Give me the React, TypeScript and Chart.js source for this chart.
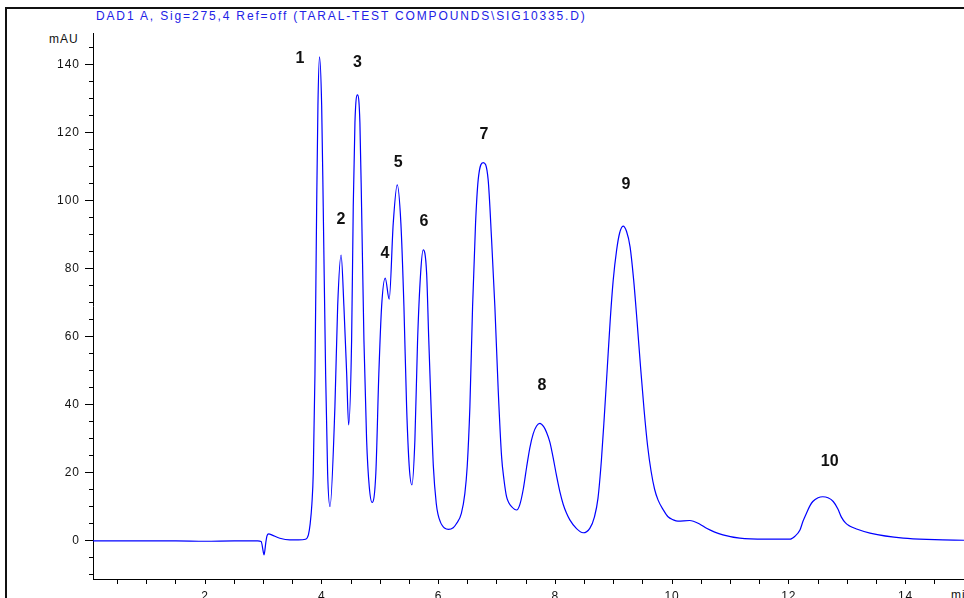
import React, { useEffect, useRef } from "react";
import { Chart, registerables } from "chart.js";

Chart.register(...registerables);

// Retention time (min) and signal (mAU)
const retentionTimes = [
  0.08, 0.5, 1.0, 1.5, 2.0, 2.5, 2.9, 2.96, 3.0, 3.01, 3.04, 3.06, 3.09, 3.15, 3.28, 3.45, 3.6, 3.72,
  3.77, 3.8, 3.83, 3.853, 3.882, 3.911, 3.933, 3.96, 3.997, 4.024, 4.065, 4.099, 4.14,
  4.224, 4.271, 4.33, 4.378, 4.425, 4.459,
  4.51, 4.538, 4.567, 4.61, 4.652, 4.681, 4.721, 4.767, 4.812, 4.861,
  4.925, 4.976, 5.024, 5.086, 5.154,
  5.223, 5.291, 5.354, 5.406, 5.452, 5.497, 5.543,
  5.594, 5.64, 5.692, 5.736, 5.795, 5.83, 5.87, 5.91, 5.96, 5.99, 6.03, 6.06, 6.1, 6.17, 6.25,
  6.31, 6.39, 6.45, 6.49, 6.536, 6.582, 6.633, 6.678, 6.764, 6.849, 6.908, 6.964, 7.021, 7.079,
  7.12, 7.164, 7.2, 7.25, 7.336, 7.39, 7.45, 7.507, 7.563, 7.62, 7.678, 7.735, 7.8, 7.85, 7.907,
  7.962, 8.02, 8.077, 8.134, 8.19, 8.248, 8.363, 8.476,
  8.59, 8.67, 8.73, 8.79, 8.84, 8.89, 8.94, 8.99, 9.05, 9.10, 9.16,
  9.22, 9.28, 9.34, 9.4, 9.46, 9.52, 9.58, 9.64, 9.7, 9.76, 9.85, 9.93, 10.02, 10.10, 10.3, 10.47,
  10.59, 10.73, 10.87, 11.16, 11.6, 12.02,
  12.04, 12.10, 12.19, 12.24, 12.3, 12.36, 12.41, 12.5, 12.58, 12.67, 12.76, 12.84, 12.9, 12.97,
  13.04, 13.16, 13.39, 13.96, 14.5, 15.0,
];
const absorbance = [
  0, 0, 0, 0, -0.1, 0, 0, -0.2, -3.5, -4.1, -0.5, 1.5, 2.1, 1.7, 0.8, 0.3, 0.3, 0.5,
  1.8, 5, 11, 20, 49, 98, 128, 142.4, 128, 98, 49, 20, 10.1,
  39.5, 69, 84.1, 69, 49.3, 34.1,
  59, 98.3, 123, 131.2, 123, 98, 59, 29.7, 16, 11.3,
  20, 49, 69, 77.3, 71.1,
  93.4, 104.7, 93.4, 69, 39.5, 21.9, 16.5,
  29.7, 59, 78.7, 85.6, 78.7, 60, 40, 22, 11, 7.8, 5.6, 4.6, 3.8, 3.4, 3.9,
  5.2, 8.1, 14, 21.9, 39.5, 68.9, 93.4, 106.2, 111.3, 106.2, 88.5, 68.9, 44.4, 24.8,
  18.0, 13, 11.3, 10.1, 9.1, 10.6, 15.2, 21.6, 27.4, 31.5, 33.8, 34.6, 33.6, 31.9, 29.0,
  24.5, 19.2, 14.5, 10.8, 8.2, 6.2, 3.6, 2.4,
  3.7, 7.1, 12.5, 24, 37, 51, 65, 76.5, 85.6, 90.5, 92.6,
  91.0, 86.5, 77, 64.5, 51, 38.5, 28, 20.5, 15.2, 12, 9.1, 7.1, 6.2, 5.8, 6.0, 5.0,
  3.7, 2.6, 1.8, 0.8, 0.5, 0.5,
  0.6, 1.3, 3.2, 5.7, 8.1, 10.3, 11.6, 12.7, 13.0, 12.7, 11.6, 9.4, 7.0, 5.3,
  4.4, 3.5, 2.3, 0.8, 0.4, 0.2,
];

// Peak numbers and where they are written (time, mAU)
const peakNames = ["1", "2", "3", "4", "5", "6", "7", "8", "9", "10"];
const peakNameTimes = [3.625, 4.327, 4.61, 5.08, 5.31, 5.75, 6.776, 7.77, 9.21, 12.7];
const peakNameLevels = [141.8, 94.6, 140.7, 84.5, 111.2, 94.0, 119.4, 45.6, 104.7, 23.2];

const xTickValues = [
  0.5, 1, 1.5, 2, 2.5, 3, 3.5, 4, 4.5, 5, 5.5, 6, 6.5, 7, 7.5, 8, 8.5, 9, 9.5, 10, 10.5, 11, 11.5,
  12, 12.5, 13, 13.5, 14, 14.5,
];
const xLabelValues = [2, 4, 6, 8, 10, 12, 14];
const yTickValues = [
  -10, -5, 0, 5, 10, 15, 20, 25, 30, 35, 40, 45, 50, 55, 60, 65, 70, 75, 80, 85, 90, 95, 100, 105,
  110, 115, 120, 125, 130, 135, 140, 145,
];
const yLabelValues = [0, 20, 40, 60, 80, 100, 120, 140];

const titleText = "DAD1 A, Sig=275,4 Ref=off (TARAL-TEST COMPOUNDS\\SIG10335.D)";
const yUnit = "mAU";
const xUnit = "min";

const FONT = "Arial, 'Liberation Sans', sans-serif";

function applySpacing(chart: any) {
  const ctx = chart.ctx;
  if (ctx && "letterSpacing" in ctx) ctx.letterSpacing = "1px";
}

const spacingPlugin = {
  id: "letterSpacing",
  beforeInit: applySpacing,
  beforeUpdate: applySpacing,
  beforeLayout: applySpacing,
  beforeDraw: applySpacing,
};

const peakLabelPlugin = {
  id: "peakLabels",
  afterDatasetsDraw(chart: any) {
    const { ctx, scales } = chart;
    const x = scales.x;
    const y = scales.y;
    ctx.save();
    if ("letterSpacing" in ctx) ctx.letterSpacing = "0px";
    ctx.font = `bold 16px ${FONT}`;
    ctx.fillStyle = "#111";
    ctx.textAlign = "center";
    ctx.textBaseline = "middle";
    peakNames.forEach((n, i) => {
      ctx.fillText(n, x.getPixelForValue(peakNameTimes[i]), y.getPixelForValue(peakNameLevels[i]));
    });
    ctx.restore();
  },
};

const textStyle = {
  position: "absolute" as const,
  font: `12px ${FONT}`,
  lineHeight: "14px",
  letterSpacing: "1px",
  whiteSpace: "nowrap" as const,
};

export default function App() {
  const canvasRef = useRef<HTMLCanvasElement | null>(null);

  useEffect(() => {
    const canvas = canvasRef.current;
    if (!canvas) return;
    const data = retentionTimes.map((t, i) => ({ x: t, y: absorbance[i] }));
    const chart = new Chart(canvas, {
      type: "line",
      data: {
        datasets: [
          {
            data,
            borderColor: "#0000ff",
            borderWidth: 1.2,
            pointRadius: 0,
            fill: false,
            cubicInterpolationMode: "monotone",
          },
        ],
      },
      options: {
        animation: false,
        responsive: false,
        events: [],
        layout: { padding: { top: 33, left: 0, right: 0, bottom: 0 } },
        plugins: {
          legend: { display: false },
          tooltip: { enabled: false },
          title: { display: false },
        },
        scales: {
          x: {
            type: "linear",
            min: 0.08,
            max: 15.0,
            afterBuildTicks: (axis: any) => {
              axis.ticks = xTickValues.map((v) => ({ value: v }));
            },
            afterFit: (scale: any) => {
              scale.height = 19;
            },
            ticks: {
              autoSkip: false,
              maxRotation: 0,
              padding: 5,
              color: "#111",
              font: { family: FONT, size: 12 },
              callback: (v: any) => (xLabelValues.includes(Number(v)) ? String(v) : ""),
            },
            grid: {
              drawOnChartArea: false,
              drawTicks: true,
              tickLength: 5,
              tickColor: "#000",
              tickWidth: 1,
            },
            border: { display: true, color: "#000", width: 1 },
          },
          y: {
            type: "linear",
            min: -11.2,
            max: 149.4,
            afterBuildTicks: (axis: any) => {
              axis.ticks = yTickValues.map((v) => ({ value: v }));
            },
            afterFit: (scale: any) => {
              scale.width = 93;
            },
            ticks: {
              autoSkip: false,
              padding: 5,
              color: "#111",
              font: { family: FONT, size: 12 },
              callback: (v: any) => (yLabelValues.includes(Number(v)) ? String(v) : ""),
            },
            grid: {
              drawOnChartArea: false,
              drawTicks: true,
              tickLength: 8,
              tickColor: "#000",
              tickWidth: 1,
              tickBorderDash: (ctx: any) =>
                ctx.tick && yLabelValues.includes(ctx.tick.value) ? [] : [0, 4, 4, 100],
            },
            border: { display: true, color: "#000", width: 1 },
          },
        },
      },
      plugins: [spacingPlugin, peakLabelPlugin],
    } as any);
    return () => chart.destroy();
  }, []);

  return (
    <div
      style={{
        position: "fixed",
        left: 0,
        top: 0,
        width: 964,
        height: 598,
        overflow: "hidden",
        background: "#fff",
      }}
    >
      <div
        style={{
          position: "absolute",
          left: 5,
          top: 7,
          width: 1000,
          height: 700,
          borderLeft: "2px solid #111",
          borderTop: "2px solid #111",
        }}
      />
      <div style={{ ...textStyle, left: 96, top: 9, letterSpacing: "1.85px", color: "#2222e6" }}>
        {titleText}
      </div>
      <span style={{ ...textStyle, left: 49, top: 32, color: "#111" }}>{yUnit}</span>
      <span style={{ ...textStyle, left: 951, top: 588, color: "#111" }}>{xUnit}</span>
      <canvas
        ref={canvasRef}
        width={964}
        height={598}
        style={{ position: "absolute", left: 0, top: 0, width: 964, height: 598 }}
      />
    </div>
  );
}
